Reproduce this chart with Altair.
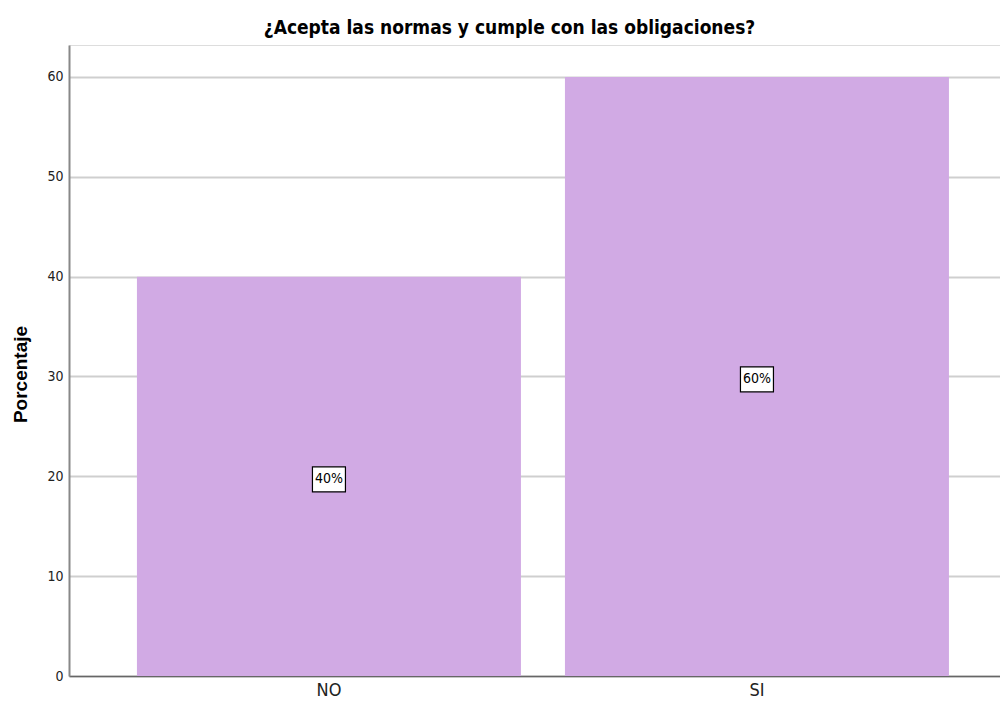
import altair as alt
import pandas as pd

categories = ["NO", "SI"]
values = [40, 60]
labels = ["40%", "60%"]

df = pd.DataFrame({"cat": categories, "val": values, "lab": labels})
df["mid"] = df["val"] / 2

NARROW = "Liberation Sans Narrow, Arial Narrow, DejaVu Sans Condensed, sans-serif"

x_enc = alt.X("cat:N", sort=categories, title=None,
              scale=alt.Scale(paddingInner=0.1028, paddingOuter=0.139, align=0.571),
              axis=alt.Axis(labelAngle=0, ticks=False, labelPadding=5, labelFont=NARROW,
                            labelFontSize=18, labelColor="#222222", domainColor="#666666",
                            domainWidth=1.5, grid=False))
y_scale = alt.Scale(domain=[0, 63.2], nice=False)

bars = alt.Chart(df).mark_bar(color="#D1AAE4").encode(
    x=x_enc,
    y=alt.Y("val:Q", scale=y_scale, title="Porcentaje",
            axis=alt.Axis(values=[0, 10, 20, 30, 40, 50, 60], ticks=False, labelPadding=6,
                          labelFont=NARROW, labelFontSize=14, labelColor="#222222",
                          domainColor="#888888", domainWidth=2, gridColor="#cfcfcf",
                          gridWidth=2, titleFont="Liberation Sans", titleFontWeight="bold",
                          titleFontSize=19, titleColor="#000000", titleAngle=-90,
                          titleX=-49, titleY=329, titleAlign="center", titleBaseline="middle")),
)

boxes = alt.Chart(df).mark_point(
    shape="M-1.32,-1L1.32,-1L1.32,1L-1.32,1Z", filled=True, fill="white", stroke="#000000",
    strokeWidth=1.2, size=625, opacity=1, yOffset=3,
).encode(x=alt.X("cat:N", sort=categories), y=alt.Y("mid:Q", scale=y_scale))

texts = alt.Chart(df).mark_text(font=NARROW, fontSize=14, color="#000000", dy=3).encode(
    x=alt.X("cat:N", sort=categories), y=alt.Y("mid:Q", scale=y_scale), text="lab:N"
)

chart = (bars + boxes + texts).properties(
    width=931, height=631,
    title=alt.TitleParams("¿Acepta las normas y cumple con las obligaciones?", font=NARROW,
                          fontSize=19, fontWeight="bold", color="#000000", anchor="middle",
                          dx=-25, offset=7),
    autosize=alt.AutoSizeParams(type="none"),
    padding={"left": 61, "top": 37, "right": 0, "bottom": 25},
).configure_view(stroke=None).configure(background="white")

chart.save("out.html", embed_options={"renderer": "svg", "actions": False})
